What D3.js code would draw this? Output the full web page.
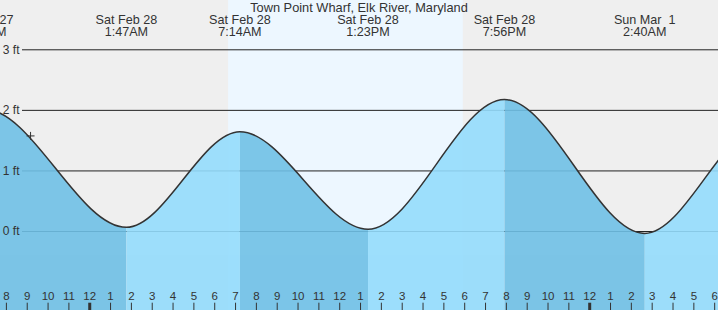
<!DOCTYPE html>
<html>
<head>
<meta charset="utf-8">
<script src="https://cdn.jsdelivr.net/npm/d3@7"></script>
<style>
  body { margin: 0; background: #efefef; }
  svg { display: block; font-family: "Liberation Sans", Arial, sans-serif; }
</style>
</head>
<body>
<div id="plot"></div>
<script>
    const title = "Town Point Wharf, Elk River, Maryland";

    // tide extremes (high / low), feet
    const tideTimes = ["2026-02-27T18:59", "2026-02-28T01:47", "2026-02-28T07:14", "2026-02-28T13:23",
                       "2026-02-28T19:56", "2026-03-01T02:40", "2026-03-01T08:25"];
    const tideLevels = [2.01, 0.06, 1.64, 0.03, 2.17, -0.04, 1.77];

    const sunTimes = ["2026-02-28T06:40", "2026-02-28T17:56"];
    const nowTime = "2026-02-27T21:11";
    const nowLevel = 1.57;
    const feetTicks = [0, 1, 2, 3];

    const width = 718, height = 310;
    const parse = d3.timeParse("%Y-%m-%dT%H:%M");
    const tides = tideTimes.map((t, i) => ({ date: parse(t), level: tideLevels[i] }));

    const svg = d3.select("div#plot")
      .append("svg")
        .attr("width", width)
        .attr("height", height);

    const xScale = d3.scaleTime()
      .domain([parse("2026-02-27T19:43"), parse("2026-03-01T06:11")])
      .range([0, width]);

    const yScale = d3.scaleLinear()
      .domain([0, 3])
      .range([231, 49.3]);

    // smooth curve, flat at every high and low
    function tideCurve(context) {
      return {
        areaStart() { this._line = 0; },
        areaEnd() { this._line = NaN; },
        lineStart() { this._point = 0; },
        lineEnd() {
          if (this._line || (this._line !== 0 && this._point === 1)) context.closePath();
          this._line = 1 - this._line;
        },
        point(x, y) {
          if (this._point === 0) {
            this._point = 1;
            this._line ? context.lineTo(x, y) : context.moveTo(x, y);
          } else {
            this._point = 2;
            const dx = x - this._x;
            context.bezierCurveTo(this._x + dx / 3, this._y, this._x + 2 * dx / 3, y, x, y);
          }
          this._x = x; this._y = y;
        }
      };
    }

    svg.append("rect")
      .attr("width", width)
      .attr("height", height)
      .attr("fill", "#efefef");

    svg.append("rect")
      .attr("x", xScale(parse(sunTimes[0])))
      .attr("width", xScale(parse(sunTimes[1])) - xScale(parse(sunTimes[0])))
      .attr("y", 0)
      .attr("height", height)
      .attr("fill", "#edf7ff");

    // grid lines
    svg.append("g")
      .attr("transform", "translate(22, 0)")
      .call(d3.axisLeft(yScale).tickValues(feetTicks).tickSize(-(width - 22)).tickFormat(""))
      .call(g => g.select(".domain").remove())
      .selectAll("line")
        .attr("stroke", "#222");

    const area = d3.area()
      .x(d => xScale(d.date))
      .y0(height + 10)
      .y1(d => yScale(d.level))
      .curve(tideCurve);

    const line = d3.line()
      .x(d => xScale(d.date))
      .y(d => yScale(d.level))
      .curve(tideCurve);

    svg.append("clipPath")
      .attr("id", "water")
      .append("path")
        .attr("d", area(tides));

    const water = svg.append("g")
      .attr("clip-path", "url(#water)")
      .attr("opacity", 0.9);

    water.selectAll("rect")
      .data(tides.slice(0, -1))
      .enter()
      .append("rect")
        .attr("x", (d, i) => xScale(d.date))
        .attr("width", (d, i) => xScale(tides[i + 1].date) - xScale(d.date))
        .attr("y", 0)
        .attr("height", height)
        .attr("fill", (d, i) => d.level > tides[i + 1].level ? "#6fc0e6" : "#94dcfc");

    svg.append("path")
      .attr("d", line(tides))
      .attr("fill", "none")
      .attr("stroke", "#333")
      .attr("stroke-width", 1.5);

    // feet labels
    svg.append("g")
      .attr("transform", "translate(22, 0)")
      .call(d3.axisLeft(yScale).tickValues(feetTicks).tickSize(0).tickPadding(2.5).tickFormat(d => d + " ft"))
      .call(g => g.select(".domain").remove())
      .selectAll("text")
        .attr("dy", "0.32em")
        .style("font-family", "'Liberation Sans', Arial, sans-serif")
        .style("font-size", "12px")
        .attr("fill", "#333");

    // hour ticks
    svg.append("g")
      .attr("transform", `translate(0, ${height})`)
      .call(d3.axisTop(xScale).ticks(d3.timeHour.every(1)).tickSize(7.3).tickPadding(2.7)
        .tickFormat(d => (d.getHours() % 12) || 12))
      .call(g => g.select(".domain").remove())
      .call(g => g.selectAll("line")
        .attr("stroke", "#333")
        .attr("stroke-width", d => d.getHours() === 0 ? 3 : 1))
      .selectAll("text")
        .style("font-family", "'Liberation Sans', Arial, sans-serif")
        .style("font-size", "11.5px")
        .attr("fill", "#333");

    // current time marker
    const nx = xScale(parse(nowTime)), ny = yScale(nowLevel);
    svg.append("path")
      .attr("d", `M${nx - 4},${ny}H${nx + 4}M${nx},${ny - 4}V${ny + 4}`)
      .attr("stroke", "#333")
      .attr("stroke-width", 1);

    // tide labels (only those reaching into the picture)
    const dateFmt = d3.timeFormat("%a %b %e");
    const timeFmt = d3.timeFormat("%-I:%M%p");
    const labelled = tides.filter(d => xScale(d.date) > -40 && xScale(d.date) < width);

    svg.selectAll(".tide-date")
      .data(labelled)
      .enter()
      .append("text")
        .attr("class", "tide-date")
        .attr("x", d => xScale(d.date))
        .attr("y", 24)
        .attr("text-anchor", "middle")
        .style("white-space", "pre")
        .style("font-size", "12.6px")
        .attr("fill", "#333")
        .text(d => dateFmt(d.date));

    svg.selectAll(".tide-time")
      .data(labelled)
      .enter()
      .append("text")
        .attr("class", "tide-time")
        .attr("x", d => xScale(d.date))
        .attr("y", 36)
        .attr("text-anchor", "middle")
        .style("font-size", "12.6px")
        .attr("fill", "#333")
        .text(d => timeFmt(d.date));

    svg.append("text")
      .attr("x", width / 2)
      .attr("y", 11.5)
      .attr("text-anchor", "middle")
      .style("font-size", "12.8px")
      .attr("fill", "#333")
      .text(title);
</script>
</body>
</html>
